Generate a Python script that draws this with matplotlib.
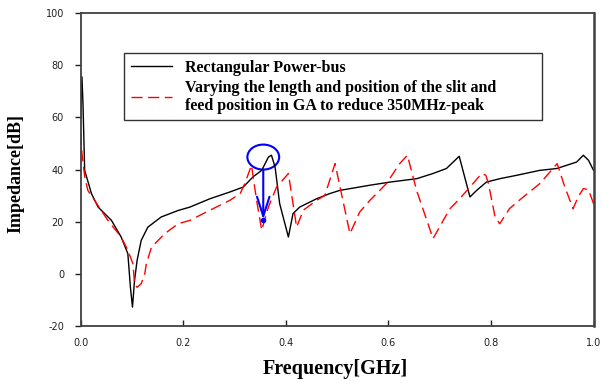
import matplotlib
matplotlib.use("Agg")
import matplotlib.pyplot as plt
from matplotlib.patches import Ellipse

plt.rcParams["axes.unicode_minus"] = False

# Rectangular power-bus (black solid)
freq_bus = [0.0, 0.0025, 0.0045, 0.0078, 0.021, 0.034, 0.06, 0.079, 0.092, 0.097,
            0.101, 0.105, 0.11, 0.118, 0.131, 0.157, 0.19, 0.213, 0.252, 0.291,
            0.317, 0.336, 0.353, 0.366, 0.372, 0.379, 0.388, 0.405, 0.414, 0.427,
            0.46, 0.486, 0.505, 0.564, 0.603, 0.655, 0.687, 0.713, 0.738, 0.759,
            0.772, 0.791, 0.817, 0.85, 0.895, 0.928, 0.967, 0.98, 0.99, 1.0]
imp_bus = [60.0, 75.6, 65.4, 39.7, 30.8, 25.6, 20.5, 14.1, 7.7, -5.2,
           -12.8, -2.6, 5.1, 12.8, 17.9, 21.8, 24.3, 25.6, 28.8, 31.4,
           33.3, 37.2, 39.7, 44.8, 45.5, 41.0, 26.9, 14.1, 23.1, 25.6,
           28.8, 30.8, 32.0, 34.0, 35.2, 36.5, 38.5, 40.4, 45.1, 29.5,
           32.0, 35.2, 36.5, 37.8, 39.7, 40.4, 42.9, 45.5, 43.6, 39.7]

# GA optimised slit / feed position (red dashed)
freq_ga = [0.0, 0.0025, 0.008, 0.014, 0.027, 0.053, 0.079, 0.092, 0.102, 0.105,
           0.11, 0.118, 0.125, 0.128, 0.138, 0.164, 0.19, 0.213, 0.252, 0.291,
           0.311, 0.32, 0.333, 0.343, 0.353, 0.366, 0.382, 0.405, 0.421, 0.434,
           0.46, 0.476, 0.496, 0.525, 0.544, 0.564, 0.596, 0.622, 0.637, 0.655,
           0.687, 0.707, 0.72, 0.739, 0.759, 0.782, 0.79, 0.795, 0.808, 0.817,
           0.836, 0.863, 0.895, 0.915, 0.929, 0.944, 0.96, 0.97, 0.98, 0.99, 1.0]
imp_ga = [53.8, 46.2, 37.2, 32.0, 28.2, 20.5, 14.1, 9.0, 3.8, -3.8,
          -5.2, -3.8, 0.0, 3.8, 10.2, 15.4, 19.2, 20.5, 24.4, 28.2,
          30.8, 34.6, 41.7, 28.2, 16.7, 25.6, 33.3, 38.5, 17.9, 24.4,
          28.2, 30.1, 42.3, 15.4, 23.7, 28.2, 34.6, 42.3, 45.5, 32.0,
          13.5, 20.5, 25.0, 28.8, 33.3, 38.5, 37.8, 34.6, 21.8, 19.2,
          25.0, 29.5, 34.6, 39.1, 42.3, 33.3, 25.0, 29.5, 32.7, 32.3, 26.9]

x_ticks = [0.0, 0.2, 0.4, 0.6, 0.8, 1.0]
x_tick_labels = ["0.0", "0.2", "0.4", "0.6", "0.8", "1.0"]
y_ticks = [-20, 0, 20, 40, 60, 80, 100]

labels = ["Rectangular Power-bus",
          "Varying the length and position of the slit and\n"
          "feed position in GA to reduce 350MHz-peak"]

# 350 MHz peak marker
peak_f = 0.356
peak_imp = 44.8
peak_w = 0.062
peak_h = 9.6
dip_imp = 20.8

SERIF = "Liberation Serif"


def make_plot():
    fig = plt.figure(figsize=(6.02, 3.87), dpi=100)
    ax = fig.add_axes([0.134, 0.158, 0.852, 0.8076])

    ax.plot(freq_bus, imp_bus, color="black", lw=1.0, label=labels[0])
    ax.plot(freq_ga, imp_ga, color="red", lw=1.0, dashes=(8, 4), label=labels[1])

    ax.add_patch(Ellipse((peak_f, peak_imp), peak_w, peak_h, fill=False,
                         edgecolor="blue", lw=1.5))
    ax.annotate("", xy=(peak_f, dip_imp), xytext=(peak_f, peak_imp - peak_h / 2),
                arrowprops=dict(arrowstyle="->,head_length=1.4,head_width=0.45",
                                color="blue", lw=1.5, shrinkA=0, shrinkB=0))
    ax.plot([peak_f], [dip_imp], "o", color="blue", ms=3)

    ax.set_xlim(0, 1.0)
    ax.set_ylim(-20, 100)
    ax.set_xticks(x_ticks)
    ax.set_xticklabels(x_tick_labels)
    ax.set_yticks(y_ticks)

    for s in ax.spines.values():
        s.set_color("#404040")
        s.set_linewidth(1.3)
    ax.spines["right"].set_linewidth(1.8)

    ax.tick_params(axis="x", direction="in", length=4, width=1, pad=9,
                   labelsize=7, colors="#202020")
    ax.tick_params(axis="y", direction="out", length=4, width=1, pad=8,
                   labelsize=7, colors="#202020")

    ax.set_xlabel("Frequency[GHz]", fontsize=14.5, fontweight="bold", family=SERIF)
    ax.set_ylabel("Impedance[dB]", fontsize=13, fontweight="bold", family=SERIF)
    ax.xaxis.set_label_coords(0.497, -0.105)
    ax.yaxis.set_label_coords(-0.11, 0.489)

    # box stretched to the width it has in the original
    leg = ax.legend(loc="upper left", bbox_to_anchor=(0.085, 0.648, 0.815, 0.224),
                    mode="expand", borderaxespad=0, frameon=True, fancybox=False,
                    handlelength=2.6, borderpad=0.4, labelspacing=0.25,
                    prop=dict(family=SERIF, weight="bold", size=11.5))
    leg.get_frame().set_edgecolor("black")
    leg.get_frame().set_linewidth(1.0)

    fig.savefig("out.png", dpi=100)


if __name__ == "__main__":
    make_plot()
